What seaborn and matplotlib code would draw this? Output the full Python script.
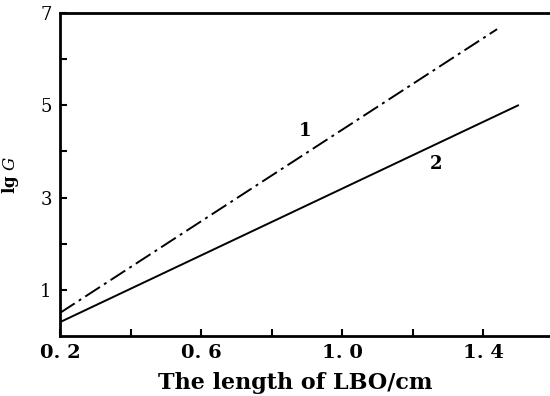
import matplotlib
matplotlib.use("Agg")
import matplotlib.pyplot as plt
import seaborn as sns
import pandas as pd
from matplotlib.ticker import FixedLocator

sns.set_style("ticks")
plt.rcParams['font.family'] = ['DejaVu Serif', 'Liberation Serif']
plt.rcParams['mathtext.fontset'] = 'dejavuserif'
plt.rcParams.update({"text.color": "black", "axes.labelcolor": "black",
                     "xtick.color": "black", "ytick.color": "black"})

# data
length_1 = [0.2, 1.44]
lgG_1 = [0.5, 6.65]
length_2 = [0.2, 1.50]
lgG_2 = [0.3, 5.0]
curve_labels = ["1", "2"]
xticks = [0.2, 0.6, 1.0, 1.4]
xtick_labels = ["0. 2", "0. 6", "1. 0", "1. 4"]
yticks = [1, 3, 5, 7]
ytick_labels = ["1", "3", "5", "7"]

df = pd.concat([
    pd.DataFrame({"x": length_1, "y": lgG_1, "curve": "1"}),
    pd.DataFrame({"x": length_2, "y": lgG_2, "curve": "2"}),
])

fig = plt.figure(figsize=(5.5, 3.96), dpi=100)
ax = fig.add_axes([60/550, 60/396, 1 - 60/550, (336-13)/396])

sns.lineplot(data=df[df.curve == "1"], x="x", y="y", ax=ax, color="black",
             lw=1.4, legend=False)
ax.lines[-1].set_dashes([9, 2.5, 1.5, 2.5])
sns.lineplot(data=df[df.curve == "2"], x="x", y="y", ax=ax, color="black",
             lw=1.4, legend=False)

ax.set_xlim(0.2, 0.2 + 490/352.5)
ax.set_ylim(0, 7)

ax.set_xticks(xticks)
ax.set_xticklabels(xtick_labels, fontsize=14, fontweight="bold")
ax.set_yticks(yticks)
ax.set_yticklabels(ytick_labels, fontsize=13)
ax.xaxis.set_minor_locator(FixedLocator([0.4, 0.8, 1.2]))
ax.yaxis.set_minor_locator(FixedLocator([2, 4, 6]))
ax.tick_params(which="both", direction="in", width=1.5, color="black")
ax.tick_params(which="major", length=5, pad=6)
ax.tick_params(which="minor", length=5)

ax.set_xlabel("The length of LBO/cm", fontsize=16, fontweight="bold", labelpad=5)
ax.xaxis.set_label_coords(0.48, -0.11)
ax.set_ylabel(r"lg $\mathit{G}$", fontsize=12, fontweight="bold", labelpad=14)

for s in ["left", "top", "bottom"]:
    ax.spines[s].set_linewidth(2)
    ax.spines[s].set_color("black")
ax.spines["right"].set_visible(False)

ax.text(0.895, 4.45, curve_labels[0], fontsize=13, fontweight="bold", ha="center", va="center")
ax.text(1.267, 3.72, curve_labels[1], fontsize=13, fontweight="bold", ha="center", va="center")

fig.savefig("out.png", dpi=100)
